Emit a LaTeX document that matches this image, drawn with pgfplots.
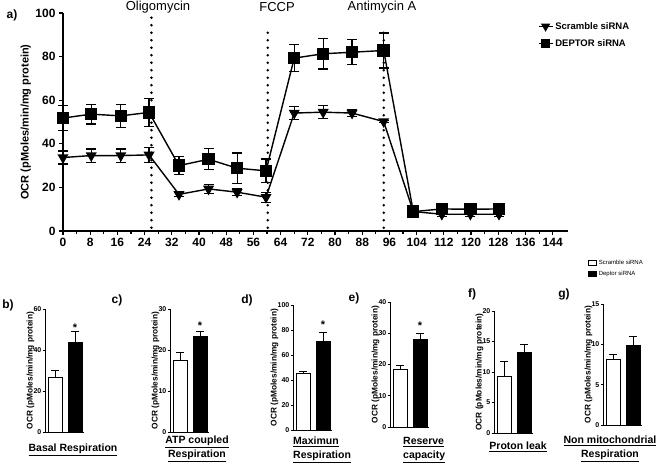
\documentclass[border=0pt]{standalone}
\usepackage{fontspec}
\setmainfont{Liberation Sans}
\usepackage{pgfplots}
\pgfplotsset{compat=1.18}
\usepackage{pgfplotstable}

\pgfplotstableread{
t y e
0 33.7 3
8.3 34.6 3
17 34.6 3
25.3 34.9 3.5
34.1 16.8 1
42.8 19.3 2
51.2 17.8 1.5
59.7 15.5 2.3
68 54.1 3
76.5 54.5 3
85 54.1 1.5
94.3 50.2 0.5
103 8.9 1
111.4 7.7 1
119.8 7.7 1
128.2 7.7 1
}\scr

\pgfplotstableread{
t y e
0 51.8 5.7
8.3 53.6 4.5
17 52.8 5.3
25.3 54.4 6.5
34.1 30.0 4
42.8 32.9 4.8
51.2 28.8 7
59.7 27.6 5.4
68 79.3 6.2
76.5 81.3 7
85 82.0 5.7
94.3 82.8 8
103 8.9 1
111.4 10.1 1.3
119.8 10.0 1
128.2 10.1 1
}\dep

\pgfplotsset{
  bp/.style={scale only axis, width=39pt, xmin=0.5, xmax=2.45, ymin=0,
    axis x line=bottom, axis y line=left, axis line style={line width=0.8pt,-},
    xtick=\empty, tick align=outside, major tick length=2.5pt,
    tick style={black, line width=0.8pt},
    ticklabel style={font=\fontsize{7}{7}\selectfont\bfseries, inner sep=1pt},
    /pgf/number format/assume math mode=true,
    ylabel={OCR (pMoles/min/mg protein)},
    ylabel style={font=\fontsize{8.3}{8.3}\selectfont\bfseries, inner sep=1pt},
    ylabel shift=-3pt,
    clip=false},
  eb/.style={error bars/y dir=plus, error bars/y explicit,
    error bars/error bar style={line width=0.8pt, black},
    error bars/error mark options={rotate=90, mark size=4pt, line width=0.8pt, black}},
  wb/.style={ybar, bar width=14pt, bar shift=0pt, fill=white, draw=black, line width=0.8pt, eb},
  bb/.style={ybar, bar width=14pt, bar shift=0pt, fill=black, draw=black, line width=0.8pt, eb},
}

\begin{document}
\begin{tikzpicture}
\useasboundingbox (0,0) rectangle (660pt,465pt);

% ---------- panel a ----------
\begin{axis}[
  at={(63pt,234pt)}, anchor=south west, scale only axis,
  width=505pt, height=218pt,
  xmin=0, xmax=148.5, ymin=0, ymax=100,
  axis x line=bottom, axis y line=left,
  axis line style={line width=1.6pt,-},
  xtick={0,8,...,144}, minor x tick num=1, ytick={0,20,...,100},
  tick align=outside, major tick length=4pt, minor tick length=3pt,
  tick style={line width=1.2pt, black},
  ticklabel style={font=\fontsize{12}{12}\selectfont\bfseries},
  /pgf/number format/assume math mode=true,
  ylabel={OCR (pMoles/min/mg protein)},
  ylabel style={font=\fontsize{11}{11}\selectfont\bfseries, inner sep=1pt},
  clip=false,
  legend style={at={(0.94,0.968)}, anchor=north west, draw=none, fill=none,
    font=\fontsize{9.5}{9.5}\selectfont\bfseries, row sep=5pt, inner sep=0pt},
  legend cell align=left,
  legend image code/.code={\draw[#1, mark repeat=2, mark phase=2, mark size=4pt] plot coordinates {(0pt,0pt) (7pt,0pt) (14pt,0pt)};},
]
\addplot[black, line width=1.4pt, mark=triangle*, mark size=5pt, mark options={rotate=180},
  error bars/.cd, y dir=both, y explicit,
  error bar style={line width=1.2pt},
  error mark options={rotate=90, mark size=5pt, line width=1.2pt}]
  table[x=t, y=y, y error=e]{\scr};
\addlegendentry{Scramble siRNA}
\addplot[black, line width=1.4pt, mark=square*, mark size=5.5pt,
  error bars/.cd, y dir=both, y explicit,
  error bar style={line width=1.2pt},
  error mark options={rotate=90, mark size=5pt, line width=1.2pt}]
  table[x=t, y=y, y error=e]{\dep};
\addlegendentry{DEPTOR siRNA}
\draw[line width=2.8pt, line cap=round, dash pattern=on 0pt off 7.5pt] (axis cs:26,1.5) -- (axis cs:26,99);
\draw[line width=2.8pt, line cap=round, dash pattern=on 0pt off 7.5pt] (axis cs:60.2,1.5) -- (axis cs:60.2,94);
\draw[line width=2.8pt, line cap=round, dash pattern=on 0pt off 7.5pt] (axis cs:94.3,1.5) -- (axis cs:94.3,93);
\end{axis}

\node[font=\fontsize{13}{13}\selectfont] at (158pt,458pt) {Oligomycin};
\node[font=\fontsize{13}{13}\selectfont] at (277pt,458pt) {FCCP};
\node[font=\fontsize{13}{13}\selectfont] at (382pt,458pt) {Antimycin A};
\node[font=\fontsize{12}{12}\selectfont\bfseries] at (12pt,450pt) {a)};

% ---------- panel b ----------
\begin{axis}[bp, at={(45pt,33pt)}, anchor=south west, height=123pt, ymax=60, ytick={0,20,40,60}]
\addplot[wb] coordinates {(1,26.5) +- (0,3.7)};
\addplot[bb] coordinates {(2,43.6) +- (0,5.4)};
\node[font=\fontsize{11}{11}\selectfont\bfseries] at (axis cs:2,51) {*};
\end{axis}
% ---------- panel c ----------
\begin{axis}[bp, at={(170pt,33pt)}, anchor=south west, height=123pt, ymax=30, ytick={0,10,20,30}]
\addplot[wb] coordinates {(1,17.4) +- (0,1.9)};
\addplot[bb] coordinates {(2,23.2) +- (0,1.3)};
\node[font=\fontsize{11}{11}\selectfont\bfseries] at (axis cs:2,26) {*};
\end{axis}
% ---------- panel d ----------
\begin{axis}[bp, at={(293pt,35pt)}, anchor=south west, height=125pt, ymax=100, ytick={0,20,...,100}]
\addplot[wb] coordinates {(1,45) +- (0,2.2)};
\addplot[bb] coordinates {(2,71) +- (0,7)};
\node[font=\fontsize{11}{11}\selectfont\bfseries] at (axis cs:2,84.5) {*};
\end{axis}
% ---------- panel e ----------
\begin{axis}[bp, at={(390pt,38pt)}, anchor=south west, height=125pt, ymax=40, ytick={0,10,...,40}]
\addplot[wb] coordinates {(1,18.5) +- (0,1.2)};
\addplot[bb] coordinates {(2,28) +- (0,1.8)};
\node[font=\fontsize{11}{11}\selectfont\bfseries] at (axis cs:2,32.5) {*};
\end{axis}
% ---------- panel f ----------
\begin{axis}[bp, at={(494pt,32pt)}, anchor=south west, height=122pt, ymax=20, ytick={0,5,...,20}]
\addplot[wb] coordinates {(1,9.2) +- (0,2.5)};
\addplot[bb] coordinates {(2,13.2) +- (0,1.4)};
\end{axis}
% ---------- panel g ----------
\begin{axis}[bp, at={(603pt,40pt)}, anchor=south west, height=121pt, ymax=15, ytick={0,5,10,15},
  legend style={at={(-0.385,1.38)}, anchor=north west, draw=none, fill=none,
    font=\fontsize{6}{6}\selectfont, row sep=1pt, inner sep=0pt},
  legend cell align=left]
\addplot[wb, legend image code/.code={\draw[black, line width=0.6pt, fill=white] (0pt,-2.5pt) rectangle (8pt,3pt);}] coordinates {(1,8.1) +- (0,0.7)};
\addlegendentry{Scramble siRNA}
\addplot[bb, legend image code/.code={\draw[black, line width=0.6pt, fill=black] (0pt,-2.5pt) rectangle (8pt,3pt);}] coordinates {(2,9.9) +- (0,1.1)};
\addlegendentry{Deptor siRNA}
\end{axis}

% panel letters
\foreach \p/\x/\y in {b)/8/160, c)/117/165, d)/247/165, e)/354/167, f)/472/171, g)/564/171}
  \node[font=\fontsize{12}{12}\selectfont\bfseries] at (\x pt,\y pt) {\p};

% x labels
\begin{scope}[every node/.style={font=\fontsize{10.5}{14}\selectfont\bfseries}]
\node at (73pt,15pt) {\underline{Basal Respiration}};
\node[align=center] at (197pt,16pt) {\underline{ATP coupled}\\\underline{Respiration}};
\node[align=left, anchor=west, inner sep=0pt] at (293pt,15pt) {\underline{Maximun}\\\underline{Respiration}};
\node[align=left, anchor=west, inner sep=0pt] at (403pt,15pt) {\underline{Reserve}\\\underline{capacity}};
\node at (518pt,18pt) {\underline{Proton leak}};
\node[align=center] at (610pt,16pt) {\underline{Non mitochondrial}\\\underline{Respiration}};
\end{scope}
\end{tikzpicture}
\end{document}
